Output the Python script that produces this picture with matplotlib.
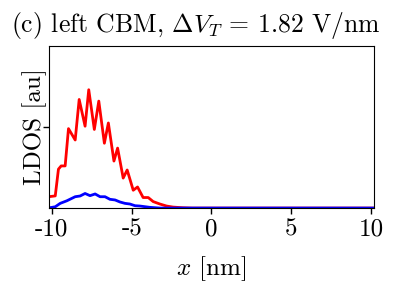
import matplotlib
matplotlib.use("Agg")
import matplotlib.pyplot as plt

plt.rcParams['font.family'] = 'serif'
plt.rcParams['font.serif'] = ['cmr10']
plt.rcParams['mathtext.fontset'] = 'cm'
plt.rcParams['axes.unicode_minus'] = False
plt.rcParams['axes.formatter.use_mathtext'] = True

# red series (total LDOS)
x_red = [-10.2, -9.79, -9.59, -9.42, -9.17, -8.96, -8.54, -8.29, -7.92, -7.69,
         -7.34, -7.06, -6.71, -6.46, -6.11, -5.88, -5.53, -5.28, -4.90, -4.63,
         -4.28, -3.96, -3.65, -3.23, -2.81, -2.40, -1.79, -1.2, 0.0, 5.0, 10.2]
y_red = [0.14, 0.15, 0.48, 0.52, 0.52, 0.98, 0.84, 1.34, 1.01, 1.46,
         0.97, 1.32, 0.80, 1.05, 0.58, 0.74, 0.37, 0.47, 0.22, 0.26,
         0.13, 0.13, 0.08, 0.05, 0.025, 0.012, 0.004, 0.0, 0.0, 0.0, 0.0]

# blue series
x_blue = [-10.2, -10.11, -9.79, -9.48, -9.06, -8.54, -8.23, -7.92, -7.61, -7.29,
          -6.98, -6.67, -6.36, -6.04, -5.73, -5.42, -5.11, -4.79, -4.48, -3.86,
          -3.23, 0.0, 5.0, 10.2]
y_blue = [0.01, 0.005, 0.016, 0.058, 0.09, 0.14, 0.149, 0.18, 0.153, 0.174,
          0.14, 0.14, 0.108, 0.10, 0.075, 0.058, 0.05, 0.029, 0.025, 0.009,
          0.0, 0.0, 0.0, 0.0]

xticks = [-10, -5, 0, 5, 10]
xtick_labels = ['-10', '-5', '0', '5', '10']

fig = plt.figure(figsize=(4.07, 2.91), dpi=100)
ax = fig.add_axes([0.1197, 0.285, 0.919 - 0.1197, 0.842 - 0.285])

ax.plot(x_red, y_red, color='#ff0000', lw=2.0)
ax.plot(x_blue, y_blue, color='#0000ff', lw=2.0)

ax.set_xlim(-10.2, 10.2)
ax.set_ylim(0, 2)
ax.set_xticks(xticks)
ax.set_xticklabels(xtick_labels, fontsize=18)
ax.set_yticks([1])
ax.set_yticklabels([''])
ax.tick_params(direction='out', length=4, width=1)
ax.set_xlabel(r'$x$ [nm]', fontsize=18, labelpad=10)
ax.set_ylabel('LDOS [au]', fontsize=18, labelpad=-6)
ax.set_title(r'(c) left CBM, $\Delta V_T$ = 1.82 V/nm', fontsize=18.5, pad=10, x=0.453)

fig.savefig('out.png', dpi=100)
